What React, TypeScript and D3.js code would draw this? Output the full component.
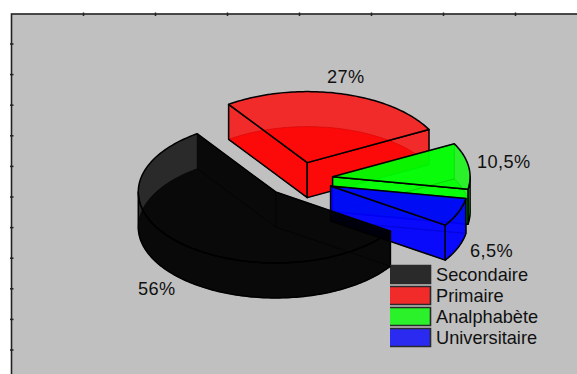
import React from "react";
import * as d3 from "d3";

const categories = ["Secondaire", "Primaire", "Analphabète", "Universitaire"];
const shares = [56, 27, 10.5, 6.5];
const shareLabels = ["56%", "27%", "10,5%", "6,5%"];
const colors = ["#000000", "#ff0000", "#00ff00", "#0000ff"];
// Back-to-front painting order of the slices
const paintOrder = [1, 2, 3, 0];
const leftTicks = d3.range(11);
const topTicks = d3.range(7);

const WIDTH = 577;
const HEIGHT = 374;
const RX = 137.5;
const RY = 71;
const DEPTH = 35;
const EXPLODE = 0.245;
const CX = 299.3;
const CY = 179.5;
const FACE_OPACITY = 0.78;
const FONT_SIZE = 18.2;

const labelPos: [number, number][] = [[138, 295], [327, 83], [477, 168], [470, 257]];

const yTick = d3.scaleLinear().domain([0, 10]).range([44, 350]);
const xTick = d3.scaleLinear().domain([0, 6]).range([83.5, 515.5]);
const legendY = d3.scaleLinear().domain([0, 3]).range([265.5, 328.5]);

const pie = d3
  .pie<number>()
  .sort(null)
  .startAngle((123.5 * Math.PI) / 180)
  .endAngle((483.5 * Math.PI) / 180);

const line = d3.line<[number, number]>();

type Pt = [number, number];

function Slice({ start, end, color }: { start: number; end: number; color: string }) {
  const mid = (start + end) / 2;
  const ox = CX + EXPLODE * RX * Math.sin(mid);
  const oy = CY - EXPLODE * RY * Math.cos(mid);
  const at = (t: number, z: number): Pt => [ox + RX * Math.sin(t), oy - RY * Math.cos(t) + z];
  const arc = (a: number, b: number, z: number): Pt[] => {
    const n = Math.max(2, Math.ceil(Math.abs(b - a) / 0.02));
    return d3.range(n + 1).map((i) => at(a + ((b - a) * i) / n, z));
  };
  const apex = (z: number): Pt => [ox, oy + z];
  const sector = (z: number) => line([apex(z), ...arc(start, end, z)]) + "Z";
  const radial = (t: number) => line([apex(0), at(t, 0), at(t, DEPTH), apex(DEPTH)]) + "Z";

  // The outer wall is only drawn on the part of the rim facing the viewer
  const PI = Math.PI;
  const walls: [number, number][] = [];
  for (const k of [0, 2]) {
    const a = Math.max(start, PI / 2 + k * PI);
    const b = Math.min(end, (3 * PI) / 2 + k * PI);
    if (b > a) walls.push([a, b]);
  }

  // A cut face looks towards the viewer when its outward normal points down the page
  const startFront = Math.cos(start - PI / 2) < 0;
  const endFront = Math.cos(end + PI / 2) < 0;

  const face = {
    fill: color,
    fillOpacity: FACE_OPACITY,
    stroke: "#000",
    strokeLinejoin: "round" as const,
  };
  const hidden = { ...face, strokeWidth: 0.7, strokeOpacity: 0.7 };
  const visible = { ...face, strokeWidth: 1.5 };
  return (
    <g>
      <path d={sector(DEPTH)} {...hidden} />
      {!startFront && <path d={radial(start)} {...hidden} />}
      {!endFront && <path d={radial(end)} {...hidden} />}
      {walls.map(([a, b], i) => (
        <path key={i} d={line([...arc(a, b, 0), ...arc(b, a, DEPTH)]) + "Z"} {...visible} />
      ))}
      {startFront && <path d={radial(start)} {...visible} />}
      {endFront && <path d={radial(end)} {...visible} />}
      <path d={sector(0)} {...visible} />
    </g>
  );
}

export default function App() {
  const arcs = pie(shares);
  return (
    <svg
      width={WIDTH}
      height={HEIGHT}
      style={{ position: "absolute", left: 0, top: 0, background: "#fff" }}
      fontFamily="'Liberation Sans', Arial, sans-serif"
    >
      <rect x={11.5} y={14} width={WIDTH} height={HEIGHT} fill="#c0c0c0" stroke="#222" strokeWidth={1.6} />
      {leftTicks.map((i) => (
        <line key={i} x1={10} x2={13.5} y1={yTick(i)} y2={yTick(i)} stroke="#222" strokeWidth={1.5} />
      ))}
      {topTicks.map((i) => (
        <line key={i} x1={xTick(i)} x2={xTick(i)} y1={12.5} y2={16} stroke="#222" strokeWidth={1.5} />
      ))}

      {paintOrder.map((i) => (
        <Slice key={i} start={arcs[i].startAngle} end={arcs[i].endAngle} color={colors[i]} />
      ))}

      {categories.map((c, i) => {
        const y = legendY(i);
        return (
          <g key={c}>
            <rect x={390} y={y} width={40} height={18} fill={colors[i]} fillOpacity={FACE_OPACITY} />
            <path
              d={`M390,${y}H430.5V${y + 18}H390`}
              fill="none"
              stroke="#2a2a2a"
              strokeWidth={1.6}
            />
            <text x={436} y={y + 15.5} fontSize={FONT_SIZE} fill="#111">
              {c}
            </text>
          </g>
        );
      })}

      {shareLabels.map((t, i) => (
        <text key={t} x={labelPos[i][0]} y={labelPos[i][1]} fontSize={FONT_SIZE} letterSpacing={0.4} fill="#111">
          {t}
        </text>
      ))}
    </svg>
  );
}
